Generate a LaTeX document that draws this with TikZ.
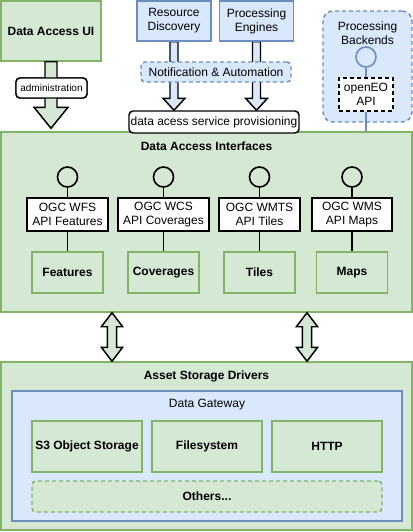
\documentclass[tikz,border=0pt]{standalone}
\usepackage{fontspec}
\setmainfont{Liberation Sans}
\usetikzlibrary{calc}
\definecolor{greenfill}{HTML}{D5E8D4}
\definecolor{greenline}{HTML}{82B366}
\definecolor{bluefill}{HTML}{DAE8FC}
\definecolor{blueline}{HTML}{6C8EBF}
\pgfdeclarelayer{background}
\pgfsetlayers{background,main}
%% hollow arrow: [style]{from}{to}{shaft half width}{head half width}{head length}
\newcommand{\fatarrow}[6][]{%
  \draw[#1] let \p1=(#2), \p2=(#3) in
    (\x1-#4,\y1) -- (\x1-#4,\y2+#6) -- (\x1-#5,\y2+#6) -- (\x1,\y2)
    -- (\x1+#5,\y2+#6) -- (\x1+#4,\y2+#6) -- (\x1+#4,\y1) -- cycle;}
%% hollow arrow with a head at both ends
\newcommand{\fatdblarrow}[6][]{%
  \draw[#1] let \p1=(#2), \p2=(#3) in
    (\x1,\y1) -- (\x1+#5,\y1-#6) -- (\x1+#4,\y1-#6) -- (\x1+#4,\y2+#6)
    -- (\x1+#5,\y2+#6) -- (\x1,\y2) -- (\x1-#5,\y2+#6) -- (\x1-#4,\y2+#6)
    -- (\x1-#4,\y1-#6) -- (\x1-#5,\y1-#6) -- cycle;}
\begin{document}
\begin{tikzpicture}
[x=0.75pt,y=-0.75pt,
  font=\fontsize{9}{10.5}\selectfont,
  boldtext/.style={font=\fontsize{9}{10.5}\selectfont\bfseries},
  greenbox/.style={draw=greenline,fill=greenfill,line width=1.1pt,
    inner sep=1pt,align=center},
  bluebox/.style={draw=blueline,fill=bluefill,line width=1.1pt,
    inner sep=1pt,align=center},
  dashbox/.style={dash pattern=on 3pt off 2.25pt,rounded corners=3pt},
  whitebox/.style={draw,fill=white,line width=1.1pt,inner sep=1pt,align=center},
  portcircle/.style={shape=circle,draw,line width=1.2pt,minimum size=15pt,inner sep=0pt},
  linkline/.style={-,line width=1.2pt},
  fatline/.style={draw=black,line width=1.1pt,line join=miter}]
\useasboundingbox (0,0) rectangle (413,532);
%%
%% containers
\node (dai) at (206.5,222) [greenbox,minimum width=308.25pt,minimum height=135pt] {};
\node (asd) at (206.5,446) [greenbox,minimum width=308.25pt,minimum height=126pt] {};
\node (gateway) at (207,456) [bluebox,minimum width=292.5pt,minimum height=97.5pt] {};
\node (backends) at (367.5,66.5) [bluebox,dashbox,rounded corners=7.5pt,
  minimum width=66.75pt,minimum height=83.25pt] {};
\node (daititle) at (206.5,146) [boldtext] {Data Access Interfaces};
\node (asdtitle) at (206.5,376) [boldtext] {Asset Storage Drivers};
\node (gwtitle) at (207,405) {Data Gateway};
\node (pbtitle) at (367.5,33) [align=center] {Processing\\Backends};
%%
%% top row
\node (ui) at (51,31) [greenbox,boldtext,minimum width=75pt,minimum height=45pt] {Data Access UI};
\node (disc) at (174,21) [bluebox,minimum width=55.5pt,minimum height=30pt] {Resource\\Discovery};
\node (eng) at (256.5,21) [bluebox,minimum width=55.5pt,minimum height=30pt] {Processing\\Engines};
\node (notif) at (216,72) [bluebox,dashbox,minimum width=112.5pt,minimum height=15pt]
  {Notification \& Automation};
\node (prov) at (214,122) [whitebox,rounded corners=3pt,minimum width=127.5pt,
  minimum height=16.5pt] {data acess service provisioning};
\node (admin) at (51.5,88) [whitebox,rounded corners=3pt,minimum width=53.25pt,
  minimum height=15pt,font=\fontsize{7.5}{9}\selectfont] {administration};
\node (pbport) at (366,57) [portcircle,draw=blueline,fill=bluefill] {};
\node (openeo) at (366,94.5) [whitebox,dash pattern=on 3pt off 2.25pt,
  minimum width=40.5pt,minimum height=24.75pt] {openEO\\API};
%%
%% interfaces: ports, APIs, data kinds
\foreach \nm/\x/\w/\ogc/\api/\lab in {feat/67.5/81/WFS/Features/Features,
  cov/163.5/91/WCS/Coverages/Coverages, tile/259.5/81/WMTS/Tiles/Tiles,
  map/352/80/WMS/Maps/Maps} {
  \node (\nm-port) at (\x,177) [portcircle] {};
  \node (\nm-api) at (\x,214.5) [whitebox,minimum width=\w*0.75pt,
    minimum height=24.75pt] {OGC \ogc\\API \api};
  \node (\nm) at (\x,272.5) [greenbox,boldtext,minimum width=53.25pt,
    minimum height=30.75pt] {\lab};
}
%% storage drivers
\node (s3) at (87,446.5) [greenbox,boldtext,minimum width=82.5pt,minimum height=38.25pt]
  {S3 Object Storage};
\node (fs) at (207,446.5) [greenbox,boldtext,minimum width=82.5pt,minimum height=38.25pt]
  {Filesystem};
\node (http) at (327,446.5) [greenbox,boldtext,minimum width=82.5pt,minimum height=38.25pt]
  {HTTP};
\node (others) at (207,496.5) [greenbox,boldtext,dashbox,minimum width=262.5pt,
  minimum height=23.25pt] {Others...};
%%
%% edges or lines
\path
\foreach \nm in {feat, cov, tile, map} {
  (\nm-port) edge[linkline] (\nm-api)
  (\nm-api) edge[linkline] (\nm)
};
\draw[linkline,draw=blueline] (pbport) -- (openeo);
\draw[linkline,draw=blueline] (openeo) -- (openeo.south |- dai.north);
%% hollow arrows
\coordinate (link1) at (112,337);
\coordinate (link2) at (307,337);
\begin{pgfonlayer}{background}
\fatarrow[fatline,fill=bluefill]{disc.south}{disc.south |- prov.north}{3pt}{8.25pt}{9pt}
\fatarrow[fatline,fill=bluefill]{eng.south}{eng.south |- prov.north}{3pt}{8.25pt}{9pt}
\end{pgfonlayer}
\fatarrow[fatline,fill=greenfill]{ui.south}{$(ui.south |- dai.north)+(0,-3)$}{4.5pt}{12.75pt}{15.75pt}
\node at (admin) [whitebox,rounded corners=3pt,minimum width=53.25pt,
  minimum height=15pt,font=\fontsize{7.5}{9}\selectfont] {administration};
\fatdblarrow[fatline,fill=greenfill]{link1 |- dai.south}{link1 |- asd.north}{3.4pt}{8pt}{10.5pt}
\fatdblarrow[fatline,fill=greenfill]{link2 |- dai.south}{link2 |- asd.north}{3.4pt}{8pt}{10.5pt}
\end{tikzpicture}
\end{document}
